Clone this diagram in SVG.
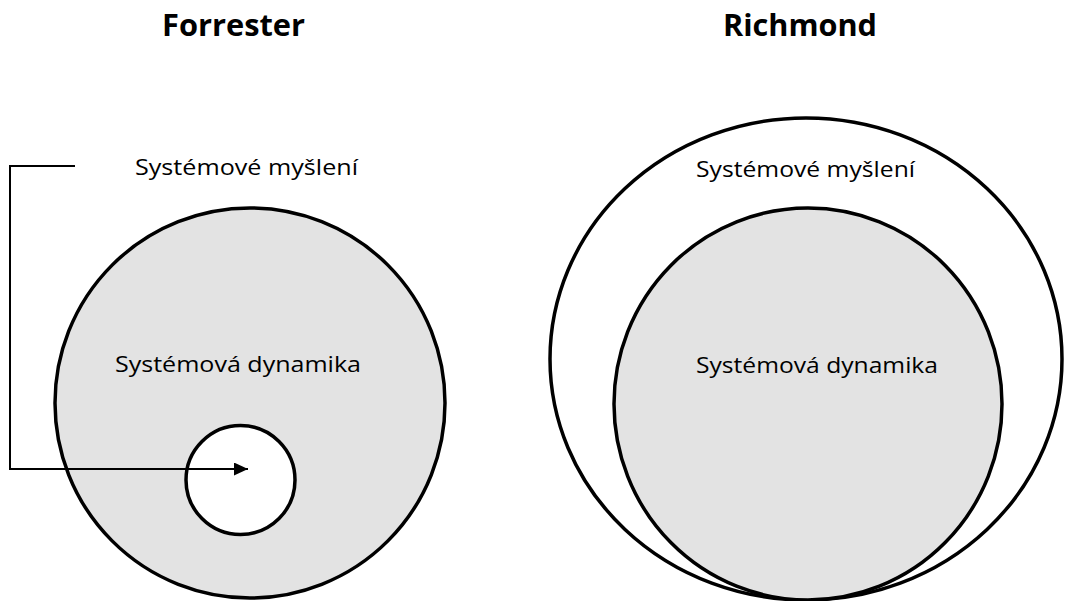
<svg xmlns="http://www.w3.org/2000/svg" width="1069" height="601" viewBox="0 0 1069 601">
<defs>
<style>
.c{stroke:#000;stroke-width:3.5}
.g{fill:#e3e3e3}
.w{fill:#fff}
.t{font-family:"Open Sans","Liberation Sans",sans-serif;font-size:21px;fill:#000}
.h{font-family:"Open Sans","Liberation Sans",sans-serif;font-size:31px;font-weight:bold;fill:#000}
.ln{fill:none;stroke:#000;stroke-width:2}
</style>
<marker id="ah" markerWidth="14" markerHeight="13" refX="14" refY="6.5" orient="auto" markerUnits="userSpaceOnUse" viewBox="0 0 14 13">
<path d="M0,0 L14,6.5 L0,13 Z" fill="#000"/>
</marker>
</defs>
<rect width="1069" height="601" fill="#fff"/>
<g id="title-forrester"><text class="h" x="162" y="36" textLength="143" lengthAdjust="spacingAndGlyphs">Forrester</text></g>
<g id="title-richmond"><text class="h" x="723" y="36" textLength="154" lengthAdjust="spacingAndGlyphs">Richmond</text></g>
<g id="forrester-myslenie"><text class="t" x="135" y="175" textLength="223" lengthAdjust="spacingAndGlyphs">Systémové myšlení</text></g>
<g id="forrester-dynamika">
<circle class="c g" cx="250" cy="403" r="195"/>
<text class="t" x="115" y="372" textLength="246" lengthAdjust="spacingAndGlyphs">Systémová dynamika</text>
</g>
<g id="forrester-inner"><circle class="c w" cx="240.5" cy="480" r="54.5"/></g>
<g id="richmond-myslenie">
<ellipse class="c w" cx="806" cy="359" rx="256" ry="241"/>
<text class="t" x="696" y="177" textLength="219" lengthAdjust="spacingAndGlyphs">Systémové myšlení</text>
</g>
<g id="richmond-dynamika">
<ellipse class="c g" cx="808" cy="404" rx="194" ry="196"/>
<text class="t" x="696" y="373" textLength="242" lengthAdjust="spacingAndGlyphs">Systémová dynamika</text>
</g>
<g id="connectors">
<path class="ln" d="M75,166 H10 V469 H248" marker-end="url(#ah)"/>
</g>
</svg>
